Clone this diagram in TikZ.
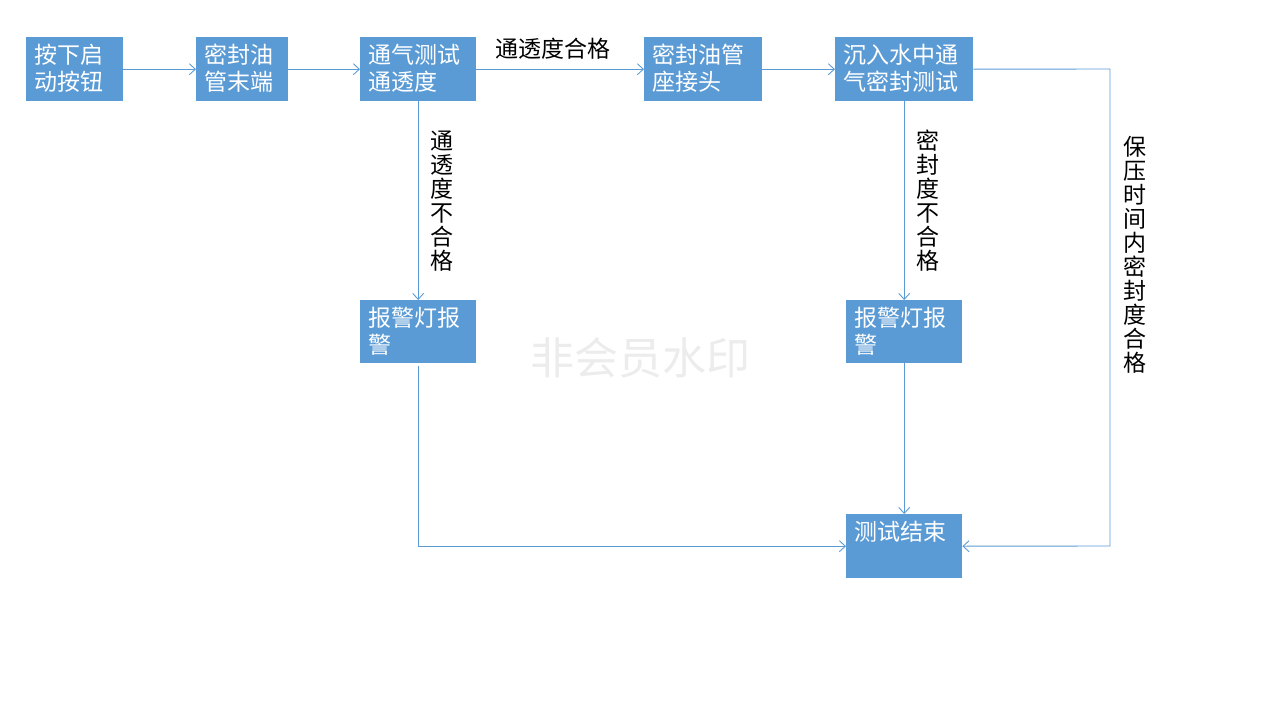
\documentclass[tikz,border=0pt]{standalone}
\usepackage{fontspec}
\setmainfont{Noto Sans CJK SC}
\usetikzlibrary{arrows.meta,positioning}
\definecolor{boxblue}{HTML}{5B9BD5}
\definecolor{markgray}{HTML}{ECECEC}

\begin{document}
\begin{tikzpicture}[x=1pt,y=-1pt,
  proc/.style={fill=boxblue, anchor=north west, inner sep=0pt, minimum height=64pt},
  txt/.style={anchor=north west, inner sep=0pt, xshift=8pt, yshift=-7pt, text=white, align=left, font=\fontsize{23}{27}\selectfont},
  lab/.style={font=\fontsize{23}{24}\selectfont, align=center},
  line/.style={draw=boxblue, line width=0.9pt},
  >={Straight Barb[length=6pt,width=11pt]}]
  \useasboundingbox (0,0) rectangle (1280,720);
  % top row
  \node[proc, minimum width=97pt, label={[txt]north west:按下启\\动按钮}] (start) at (26,37) {};
  \node[proc, minimum width=92pt, label={[txt]north west:密封油\\管末端}] (tubeend) at (196,37) {};
  \node[proc, minimum width=116pt, label={[txt]north west:通气测试\\通透度}] (airtest) at (360,37) {};
  \node[proc, minimum width=118pt, label={[txt]north west:密封油管\\座接头}] (seat) at (644,37) {};
  \node[proc, minimum width=138pt, label={[txt]north west:沉入水中通\\气密封测试}] (water) at (835,37) {};
  % alarms and end
  \node[proc, minimum width=116pt, minimum height=63pt, label={[txt]north west:报警灯报\\警}] (alarm1) at (360,300) {};
  \node[proc, minimum width=116pt, minimum height=63pt, label={[txt]north west:报警灯报\\警}] (alarm2) at (846,300) {};
  \node[proc, minimum width=116pt, label={[txt]north west:测试结束}] (finish) at (846,514) {};
  \node[text=markgray, font=\fontsize{44}{44}\selectfont] (mark) at (640,358) {非会员水印};
  \coordinate (loopa) at (1110,69);
  \coordinate (loopb) at (1110,546);

  \draw[line,->] (start) -- (tubeend);
  \draw[line,->] (tubeend) -- (airtest);
  \draw[line,->] (airtest) -- node[above, lab, xshift=-7pt, yshift=6pt] {通透度合格} (seat);
  \draw[line,->] (seat) -- (water);
  \draw[line,->] (airtest) -- node[right, lab, xshift=9pt] {通\\透\\度\\不\\合\\格} (alarm1);
  \draw[line,->] (water) -- node[right, lab, xshift=9pt] {密\\封\\度\\不\\合\\格} (alarm2);
  \draw[line,->] (water.east) -- (loopa) -- node[pos=0.39, right, lab, xshift=10pt] {保\\压\\时\\间\\内\\密\\封\\度\\合\\格} (loopb) -- (finish.east);
  \draw[line,->, shorten <=3pt] (alarm1.south) |- (finish.west);
  \draw[line,->] (alarm2) -- (finish);
\end{tikzpicture}
\end{document}
